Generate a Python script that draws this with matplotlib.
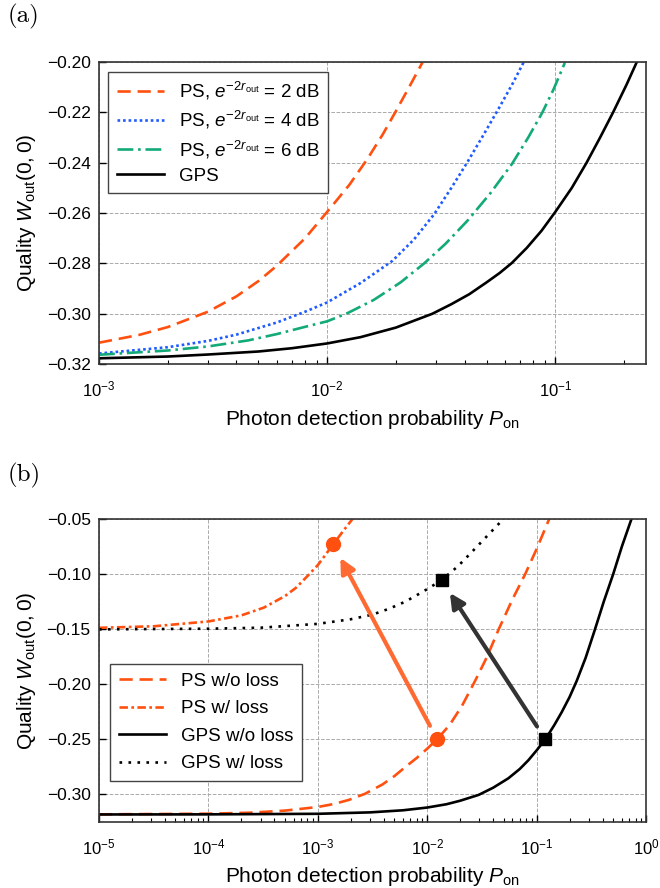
import matplotlib
matplotlib.use("Agg")
from matplotlib import pyplot as plt
from matplotlib.ticker import LogLocator, NullFormatter
import numpy as np

plt.rcParams['font.family'] = ['Liberation Sans', 'DejaVu Sans']
plt.rcParams['mathtext.fontset'] = 'custom'
plt.rcParams['mathtext.rm'] = 'Liberation Sans'
plt.rcParams['mathtext.it'] = 'Liberation Sans:italic'
plt.rcParams['mathtext.bf'] = 'Liberation Sans:bold'
plt.rcParams['axes.unicode_minus'] = True

# ---- panel (a) data: quality vs detection probability ----
p_ps2 = [1e-3, 1.5e-3, 2e-3, 3e-3, 4e-3, 5e-3, 6e-3, 8e-3, 1e-2, 1.25e-2, 1.5e-2, 1.75e-2, 2e-2, 2.3e-2, 2.62e-2]
w_ps2 = [-0.3115, -0.3084, -0.3053, -0.2992, -0.2931, -0.2870, -0.2810, -0.2700, -0.2595, -0.2488, -0.2385, -0.2288, -0.2195, -0.2095, -0.2000]

p_ps4 = [1e-3, 2e-3, 3e-3, 4e-3, 6e-3, 8e-3, 1e-2, 1.4e-2, 1.93e-2, 2.4e-2, 2.94e-2, 3.5e-2, 4.1e-2, 4.8e-2, 5.64e-2, 6.5e-2, 7.46e-2]
w_ps4 = [-0.3158, -0.3133, -0.3108, -0.3083, -0.3035, -0.2992, -0.2955, -0.2878, -0.2790, -0.2705, -0.2605, -0.2500, -0.2400, -0.2295, -0.2185, -0.2085, -0.1980]

p_ps6 = [1e-3, 2e-3, 3e-3, 4.5e-3, 6e-3, 8e-3, 1e-2, 1.225e-2, 1.6e-2, 2.1e-2, 2.66e-2, 3.3e-2, 4.14e-2, 5.2e-2, 6.45e-2, 7.6e-2, 8.77e-2, 0.098, 0.11]
w_ps6 = [-0.3163, -0.3146, -0.3130, -0.3106, -0.3081, -0.3052, -0.3030, -0.2998, -0.2945, -0.2875, -0.2800, -0.2722, -0.2628, -0.2520, -0.2405, -0.2300, -0.2200, -0.2110, -0.2003]

p_gps = [1e-3, 2e-3, 3e-3, 5e-3, 7e-3, 1e-2, 1.4e-2, 2e-2, 2.89e-2, 3.5e-2, 4.2e-2, 5e-2, 5.7e-2, 6.45e-2, 7.5e-2, 8.7e-2, 0.1, 0.118, 0.137, 0.157, 0.179, 0.205, 0.234]
w_gps = [-0.3177, -0.3170, -0.3162, -0.3150, -0.3137, -0.3118, -0.3093, -0.3055, -0.3000, -0.2962, -0.2922, -0.2875, -0.2838, -0.2798, -0.2738, -0.2670, -0.2595, -0.2500, -0.2400, -0.2300, -0.2200, -0.2090, -0.1975]

labels_a = [r'PS, $e^{-2r_{\rm out}}$ = 2 dB', r'PS, $e^{-2r_{\rm out}}$ = 4 dB',
            r'PS, $e^{-2r_{\rm out}}$ = 6 dB', 'GPS']

# ---- panel (b) data: with / without loss ----
p_ps_noloss = [1e-5, 1e-4, 2.4e-4, 5e-4, 1e-3, 1.4e-3, 1.93e-3, 2.7e-3, 3.9e-3, 5e-3, 6.3e-3, 8e-3, 1e-2, 1.23e-2, 1.6e-2, 2.08e-2, 2.75e-2, 3.5e-2, 4.5e-2, 6e-2, 7.85e-2, 0.1, 0.13]
w_ps_noloss = [-0.3182, -0.3176, -0.3167, -0.3148, -0.3115, -0.3088, -0.3050, -0.2995, -0.2910, -0.2835, -0.2752, -0.2670, -0.2585, -0.2500, -0.2370, -0.2195, -0.1965, -0.1755, -0.1500, -0.1230, -0.1000, -0.0770, -0.0500]

p_ps_loss = [1e-5, 3.16e-5, 1e-4, 2e-4, 3.2e-4, 5e-4, 6.3e-4, 8e-4, 1e-3, 1.38e-3, 1.7e-3, 2.07e-3]
w_ps_loss = [-0.1488, -0.1474, -0.1430, -0.1375, -0.1305, -0.1200, -0.1125, -0.1020, -0.0918, -0.0730, -0.0610, -0.0500]

p_gps_noloss = [1e-5, 1e-4, 1e-3, 3e-3, 6e-3, 1e-2, 1.5e-2, 2e-2, 2.95e-2, 4e-2, 5.5e-2, 7e-2, 8.4e-2, 0.1, 0.12, 0.145, 0.169, 0.2, 0.232, 0.28, 0.34, 0.41, 0.5, 0.6, 0.734]
w_gps_noloss = [-0.3183, -0.3182, -0.3177, -0.3164, -0.3145, -0.3120, -0.3090, -0.3058, -0.3005, -0.2940, -0.2855, -0.2770, -0.2690, -0.2600, -0.2500, -0.2370, -0.2255, -0.2115, -0.1970, -0.1760, -0.1505, -0.1250, -0.1000, -0.0750, -0.0500]

p_gps_loss = [1e-5, 1e-4, 3e-4, 1e-3, 2e-3, 3.15e-3, 4.5e-3, 6.3e-3, 8e-3, 1e-2, 1.35e-2, 1.9e-2, 2.4e-2, 3.4e-2, 4.9e-2]
w_gps_loss = [-0.1502, -0.1496, -0.1487, -0.1452, -0.1410, -0.1368, -0.1314, -0.1250, -0.1192, -0.1136, -0.1055, -0.0930, -0.0827, -0.0670, -0.0505]

# highlighted operating points (w/o loss -> w/ loss)
mark_ps = ([1.23e-2, 1.38e-3], [-0.250, -0.073])
mark_gps = ([0.120, 1.35e-2], [-0.250, -0.1055])

labels_b = ['PS w/o loss', 'PS w/ loss', 'GPS w/o loss', 'GPS w/ loss']

orange = '#FF5010'
blue = '#1F5BFF'
green = '#12AA78'
lw = 1.9

fig = plt.figure(figsize=(6.6, 8.88), dpi=100)
ax_a = fig.add_axes([0.150, 0.590, 0.829, 0.340])
ax_b = fig.add_axes([0.150, 0.0745, 0.829, 0.341])


def style_axis(ax):
    ax.set_xscale('log')
    ax.grid(True, which='major', color='#aaaaaa', linestyle='--', linewidth=0.7)
    ax.tick_params(which='both', direction='in', top=False, right=False)
    ax.tick_params(axis='x', which='major', labelsize=12, pad=11)
    ax.tick_params(axis='y', which='major', labelsize=12.5, pad=6)
    ax.tick_params(which='major', length=5, width=1)
    ax.tick_params(which='minor', length=3, width=0.8)
    ax.xaxis.set_minor_locator(LogLocator(base=10, subs=np.arange(2, 10), numticks=20))
    ax.xaxis.set_minor_formatter(NullFormatter())
    for s in ax.spines.values():
        s.set_color('#333333')
        s.set_linewidth(1.2)
    ax.set_xlabel(r'Photon detection probability $P_{\rm on}$', fontsize=15, labelpad=6)
    ax.set_ylabel(r'Quality $W_{\rm out}(0, 0)$', fontsize=15, labelpad=6)


def ytick_text(vals):
    return [('%.2f' % v).replace('-', '\u2212') for v in vals]


# panel (a)
ax_a.plot(p_ps2, w_ps2, color=orange, lw=lw, dashes=(5, 2.6), label=labels_a[0])
ax_a.plot(p_ps4, w_ps4, color=blue, lw=lw, dashes=(1, 1.1), label=labels_a[1])
ax_a.plot(p_ps6, w_ps6, color=green, lw=lw, dashes=(6, 1.8, 1, 1.8), label=labels_a[2])
ax_a.plot(p_gps, w_gps, color='black', lw=lw, label=labels_a[3])
style_axis(ax_a)
ax_a.set_xlim(1e-3, 0.25)
ax_a.set_ylim(-0.32, -0.20)
yt_a = [-0.32, -0.30, -0.28, -0.26, -0.24, -0.22, -0.20]
ax_a.set_yticks(yt_a)
ax_a.set_yticklabels(ytick_text(yt_a))
leg = ax_a.legend(loc='upper left', fontsize=13.5, fancybox=False, edgecolor='#444444',
                  handlelength=2.5, framealpha=1, borderpad=0.45, labelspacing=0.38)
leg.get_frame().set_linewidth(1.0)

# panel (b)
ax_b.plot(p_ps_noloss, w_ps_noloss, color=orange, lw=lw, dashes=(5, 2.6), label=labels_b[0])
ax_b.plot(p_ps_loss, w_ps_loss, color=orange, lw=lw, dashes=(3.2, 1.3, 1, 1.3), label=labels_b[1])
ax_b.plot(p_gps_noloss, w_gps_noloss, color='black', lw=lw, label=labels_b[2])
ax_b.plot(p_gps_loss, w_gps_loss, color='black', lw=lw, dashes=(1, 2.4), label=labels_b[3])
ax_b.plot(mark_ps[0], mark_ps[1], 'o', color=orange, ms=10, ls='none', zorder=5)
ax_b.plot(mark_gps[0], mark_gps[1], 's', color='black', ms=9, ls='none', zorder=5)
ax_b.annotate('', xy=(mark_ps[0][1], mark_ps[1][1]), xytext=(mark_ps[0][0], mark_ps[1][0]),
              arrowprops=dict(arrowstyle='-|>', color='#FF6A33', lw=3, mutation_scale=22,
                              shrinkA=11, shrinkB=11), zorder=4)
ax_b.annotate('', xy=(mark_gps[0][1], mark_gps[1][1]), xytext=(mark_gps[0][0], mark_gps[1][0]),
              arrowprops=dict(arrowstyle='-|>', color='#333333', lw=3, mutation_scale=22,
                              shrinkA=11, shrinkB=11), zorder=4)
style_axis(ax_b)
ax_b.set_xlim(1e-5, 1)
ax_b.set_ylim(-0.325, -0.05)
yt_b = [-0.30, -0.25, -0.20, -0.15, -0.10, -0.05]
ax_b.set_yticks(yt_b)
ax_b.set_yticklabels(ytick_text(yt_b))
leg = ax_b.legend(loc='upper left', bbox_to_anchor=(0.021, 0.52), borderaxespad=0,
                  fontsize=13.5, fancybox=False, edgecolor='#444444',
                  handlelength=2.5, framealpha=1, borderpad=0.45, labelspacing=0.55)
leg.get_frame().set_linewidth(1.0)

fig.text(0.012, 0.982, '(a)', family='cmr10', fontsize=18, va='center', ha='left')
fig.text(0.012, 0.465, '(b)', family='cmr10', fontsize=18, va='center', ha='left')

fig.savefig('out.png', dpi=100)
